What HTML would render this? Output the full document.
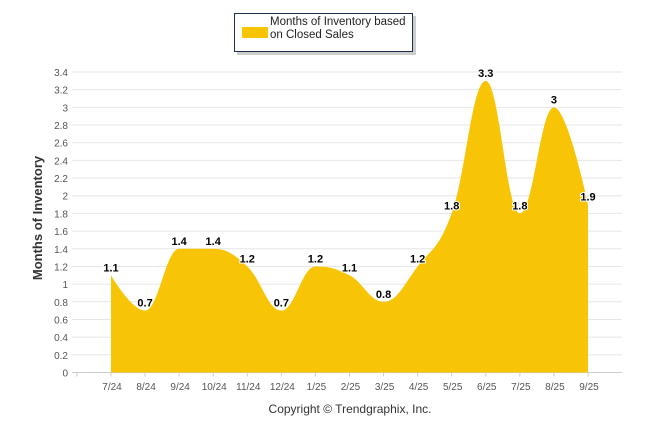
<!DOCTYPE html>
<html><head><meta charset="utf-8"><style>
html,body{margin:0;padding:0;background:#fff;width:646px;height:434px;overflow:hidden}
svg{display:block;font-family:"Liberation Sans",Arial,sans-serif}
</style></head><body>
<svg id="chart" width="646" height="434">
<rect x="237" y="16" width="179" height="39" fill="#999" opacity="0.5"/>
<rect x="234.5" y="13.5" width="178" height="38" fill="#fff" stroke="#1f2d50" stroke-width="1"/>
<rect x="242" y="27" width="26" height="11" fill="#f7c505"/>
<text x="270" y="25" font-size="11.5" fill="#222">Months of Inventory based</text>
<text x="270" y="38" font-size="11.5" fill="#222">on Closed Sales</text>
<g id="grid"></g>
<path id="area" fill="#f7c505"/>
<g id="labels"></g>
<text transform="translate(42,218) rotate(-90)" text-anchor="middle" font-size="13" font-weight="bold" fill="#333">Months of Inventory</text>
<text x="350" y="413" text-anchor="middle" font-size="12" fill="#333">Copyright © Trendgraphix, Inc.</text>
</svg>
<script>
const categories=["7/24","8/24","9/24","10/24","11/24","12/24","1/25","2/25","3/25","4/25","5/25","6/25","7/25","8/25","9/25"];
const values=[1.1,0.7,1.4,1.4,1.2,0.7,1.2,1.1,0.8,1.2,1.8,3.3,1.8,3,1.9];
const yTicks=[0,0.2,0.4,0.6,0.8,1,1.2,1.4,1.6,1.8,2,2.2,2.4,2.6,2.8,3,3.2,3.4];
const NS="http://www.w3.org/2000/svg";
const X0=111,DX=34.07,Y0=372.5,YT=72,YMAX=3.4;
const xs=i=>X0+DX*i;
const ys=v=>Y0-(Y0-YT)*v/YMAX;
function mk(tag,attrs,parent){const e=document.createElementNS(NS,tag);for(const k in attrs)e.setAttribute(k,attrs[k]);parent.appendChild(e);return e;}
const grid=document.getElementById('grid');
yTicks.forEach(t=>{
  const l=mk('line',{x1:72,x2:622,y1:ys(t),y2:ys(t),stroke:t===0?'#ccc':'#e6e6e6','stroke-width':1},grid);
  
  
  const tx=mk('text',{x:68,y:ys(t)+4,'text-anchor':'end','font-size':10,fill:'#555'},grid);
  tx.textContent=String(t);
  
  
});
for(let i=0;i<=categories.length;i++){
  const x=xs(i)-DX;
  const tk=mk('line',{x1:x,x2:x,y1:Y0,y2:Y0+4,stroke:'#ccc'},grid);
  
  
}
categories.forEach((c,i)=>{
  const tx=mk('text',{x:xs(i)+1,y:390,'text-anchor':'middle','font-size':10,fill:'#555'},grid);
  tx.textContent=c;
  
  
});
const pts=values.map((v,i)=>[xs(i),ys(v)]);
const sm=1.5,den=sm+1;
function ctrl(i){
  const [px,py]=pts[i],[lx0,ly0]=pts[i-1],[nx,ny]=pts[i+1];
  let lcx=(sm*px+lx0)/den,lcy=(sm*py+ly0)/den,rcx=(sm*px+nx)/den,rcy=(sm*py+ny)/den;
  if(rcx!==lcx){const c=((rcy-lcy)*(rcx-px))/(rcx-lcx)+py-rcy;lcy+=c;rcy+=c;}
  if(lcy>ly0&&lcy>py){lcy=Math.max(ly0,py);rcy=2*py-lcy;}
  else if(lcy<ly0&&lcy<py){lcy=Math.min(ly0,py);rcy=2*py-lcy;}
  if(rcy>ny&&rcy>py){rcy=Math.max(ny,py);lcy=2*py-rcy;}
  else if(rcy<ny&&rcy<py){rcy=Math.min(ny,py);lcy=2*py-rcy;}
  return {L:[lcx,lcy],R:[rcx,rcy]};
}
const C=pts.map((p,i)=>(i>0&&i<pts.length-1)?ctrl(i):{L:p,R:p});
let d=`M${pts[0][0]},${Y0} L${pts[0][0]},${pts[0][1]}`;
for(let i=1;i<pts.length;i++){
  const a=C[i-1].R,b=C[i].L,p=pts[i];
  d+=` C${a[0]},${a[1]} ${b[0]},${b[1]} ${p[0]},${p[1]}`;
}
d+=` L${pts[pts.length-1][0]},${Y0} Z`;
document.getElementById('area').setAttribute('d',d);
const lab=document.getElementById('labels');
values.forEach((v,i)=>{
  const t=mk('text',{x:xs(i),y:ys(v)-4,'text-anchor':'middle','font-size':11,'font-weight':'bold',fill:'#000',stroke:'#fff','stroke-width':2,'paint-order':'stroke'},lab);
  t.textContent=String(v);
  
  
});
</script>
</body></html>
